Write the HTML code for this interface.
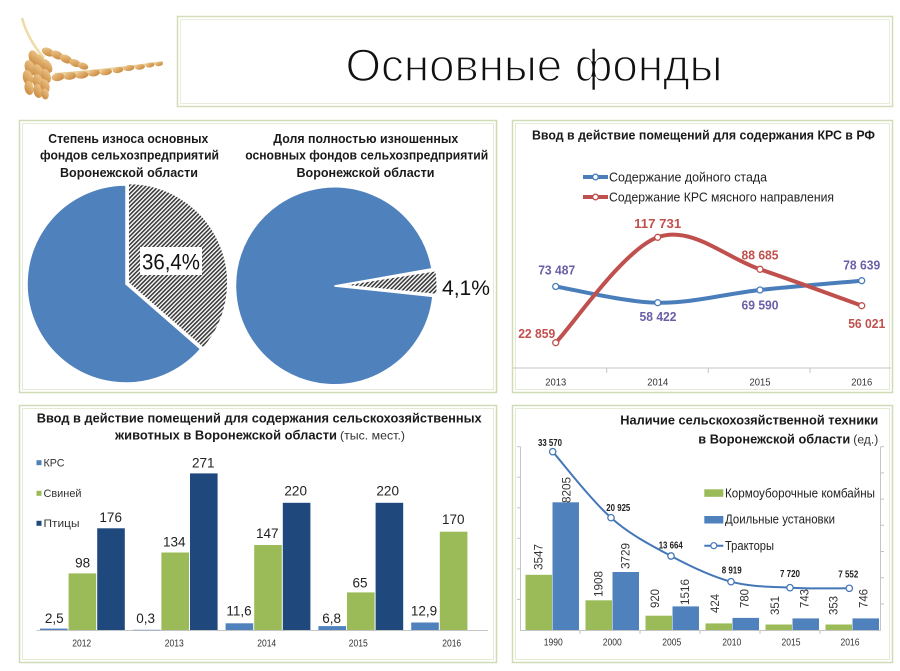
<!DOCTYPE html>
<html><head><meta charset="utf-8">
<style>
html,body{margin:0;padding:0;background:#fff;}
svg{display:block;}
text{font-family:"Liberation Sans","DejaVu Sans",sans-serif;}
</style></head>
<body>
<svg width="900" height="671" viewBox="0 0 900 671" xmlns="http://www.w3.org/2000/svg">
<defs>
<pattern id="hatch" patternUnits="userSpaceOnUse" width="3" height="3" patternTransform="rotate(45)">
<rect width="3" height="3" fill="#ffffff"/>
<line x1="0.8" y1="0" x2="0.8" y2="3" stroke="#3a3a3a" stroke-width="1.6"/>
</pattern>
<linearGradient id="gr1" x1="0" y1="0" x2="1" y2="1">
<stop offset="0" stop-color="#f2cf95"/><stop offset="1" stop-color="#c47f33"/>
</linearGradient>
</defs>
<rect width="900" height="671" fill="#fff"/>

<!-- wheat -->
<g>
<path d="M22,18 Q28,40 44,58" stroke="#eddcaa" stroke-width="2.5" fill="none"/>
<path d="M55,74 Q110,70 163,62" stroke="#e8cf98" stroke-width="2" fill="none"/>
<g fill="url(#gr1)">
<ellipse cx="34" cy="58" rx="8" ry="5" transform="rotate(70 34 58)"/>
<ellipse cx="30" cy="68" rx="8" ry="5" transform="rotate(70 30 68)"/>
<ellipse cx="28" cy="78" rx="8" ry="5" transform="rotate(75 28 78)"/>
<ellipse cx="29" cy="88" rx="7" ry="4.5" transform="rotate(80 29 88)"/>
<ellipse cx="40" cy="62" rx="8" ry="5" transform="rotate(65 40 62)"/>
<ellipse cx="38" cy="72" rx="8" ry="5" transform="rotate(70 38 72)"/>
<ellipse cx="38" cy="82" rx="8" ry="5" transform="rotate(75 38 82)"/>
<ellipse cx="38" cy="91" rx="7" ry="4.5" transform="rotate(80 38 91)"/>
<ellipse cx="47" cy="66" rx="7.5" ry="4.5" transform="rotate(60 47 66)"/>
<ellipse cx="46" cy="76" rx="7.5" ry="4.5" transform="rotate(70 46 76)"/>
<ellipse cx="45" cy="86" rx="7" ry="4.5" transform="rotate(75 45 86)"/>
<ellipse cx="45" cy="94" rx="5.5" ry="3.8" transform="rotate(80 45 94)"/>
<ellipse cx="48" cy="52" rx="6.5" ry="4" transform="rotate(25 48 52)"/>
<ellipse cx="57" cy="55" rx="6.5" ry="4" transform="rotate(25 57 55)"/>
<ellipse cx="66" cy="59" rx="6.5" ry="4" transform="rotate(25 66 59)"/>
<ellipse cx="75" cy="63" rx="6" ry="3.6" transform="rotate(22 75 63)"/>
<ellipse cx="83" cy="66" rx="5.5" ry="3.3" transform="rotate(20 83 66)"/>
<ellipse cx="58" cy="77" rx="6.5" ry="4" transform="rotate(-8 58 77)"/>
<ellipse cx="70" cy="76" rx="6.5" ry="3.8" transform="rotate(-8 70 76)"/>
<ellipse cx="82" cy="75" rx="6.5" ry="3.6" transform="rotate(-8 82 75)"/>
<ellipse cx="94" cy="73" rx="6" ry="3.4" transform="rotate(-8 94 73)"/>
<ellipse cx="106" cy="72" rx="6" ry="3.2" transform="rotate(-8 106 72)"/>
<ellipse cx="118" cy="70" rx="5.5" ry="3" transform="rotate(-8 118 70)"/>
<ellipse cx="129" cy="68" rx="5.5" ry="2.9" transform="rotate(-8 129 68)"/>
<ellipse cx="140" cy="67" rx="5" ry="2.7" transform="rotate(-8 140 67)"/>
<ellipse cx="150" cy="65" rx="4.5" ry="2.5" transform="rotate(-8 150 65)"/>
<ellipse cx="159" cy="64" rx="4" ry="2.2" transform="rotate(-8 159 64)"/>
</g>
</g>

<!-- title box -->
<rect x="177.5" y="16.5" width="715" height="90" fill="#fff" stroke="#d3deb9" stroke-width="1.5"/>
<rect x="180.5" y="19.5" width="709" height="84" fill="none" stroke="#e8eedb" stroke-width="1"/>
<text x="534" y="81" font-size="45" fill="#111" stroke="#fff" stroke-width="1.4" text-anchor="middle" textLength="377" lengthAdjust="spacingAndGlyphs">Основные фонды</text>

<!-- panels -->
<g fill="none">
<rect x="19.5" y="120.5" width="477" height="272" stroke="#d0dcb6" stroke-width="1.5"/>
<rect x="22.5" y="123.5" width="471" height="266" stroke="#e4ebd4" stroke-width="1"/>
<rect x="512.5" y="120.5" width="380" height="272" stroke="#d0dcb6" stroke-width="1.5"/>
<rect x="515.5" y="123.5" width="374" height="266" stroke="#e4ebd4" stroke-width="1"/>
<rect x="19.5" y="405.5" width="477" height="257" stroke="#d0dcb6" stroke-width="1.5"/>
<rect x="22.5" y="408.5" width="471" height="251" stroke="#e4ebd4" stroke-width="1"/>
<rect x="512.5" y="405.5" width="380" height="257" stroke="#d0dcb6" stroke-width="1.5"/>
<rect x="515.5" y="408.5" width="374" height="251" stroke="#e4ebd4" stroke-width="1"/>
</g>

<!-- TL pies -->
<g font-weight="bold" font-size="13" fill="#1a1a1a" text-anchor="middle">
<text x="128.3" y="142.8" textLength="160" lengthAdjust="spacingAndGlyphs">Степень износа основных</text>
<text x="129.5" y="159.5" textLength="179" lengthAdjust="spacingAndGlyphs">фондов сельхозпредприятий</text>
<text x="129" y="176.8" textLength="138" lengthAdjust="spacingAndGlyphs">Воронежской области</text>
<text x="365.8" y="142.8" textLength="185" lengthAdjust="spacingAndGlyphs">Доля полностью изношенных</text>
<text x="366.7" y="159.5" textLength="243" lengthAdjust="spacingAndGlyphs">основных фондов сельхозпредприятий</text>
<text x="365.5" y="176.8" textLength="138" lengthAdjust="spacingAndGlyphs">Воронежской области</text>
</g>
<path d="M126,284 L200.7,349 A99,99 0 1,1 126,185 Z" fill="#4f81bd" stroke="#fff" stroke-width="1.5"/>
<path d="M128.5,282.8 L128.5,183.8 A99,99 0 0,1 203.2,347.8 Z" fill="url(#hatch)" stroke="#fff" stroke-width="1"/>
<rect x="140" y="247" width="62" height="28" fill="#fff"/>
<text x="171" y="269.5" font-size="22" fill="#111" text-anchor="middle" textLength="58" lengthAdjust="spacingAndGlyphs">36,4%</text>

<path d="M334.5,286 L432.9,296.4 A99,99 0 1,1 432,268.8 Z" fill="#4f81bd" stroke="#fff" stroke-width="1.5"/>
<path d="M348,285 L435.4,271.5 A98,98 0 0,1 436.2,293.7 Z" fill="url(#hatch)"/>
<text x="466" y="295" font-size="21" fill="#111" text-anchor="middle" textLength="48" lengthAdjust="spacingAndGlyphs">4,1%</text>

<!-- TR line chart -->
<text x="703.5" y="139.5" font-size="12.5" font-weight="bold" fill="#1a1a1a" text-anchor="middle" textLength="343" lengthAdjust="spacingAndGlyphs">Ввод в действие помещений для содержания КРС в РФ</text>
<line x1="583" y1="177" x2="608" y2="177" stroke="#4a7ebb" stroke-width="4"/>
<circle cx="595.5" cy="177" r="2.8" fill="#fff" stroke="#4a7ebb" stroke-width="1.3"/>
<text x="609" y="181.5" font-size="13" fill="#222" textLength="158" lengthAdjust="spacingAndGlyphs">Содержание дойного стада</text>
<line x1="583" y1="197" x2="608" y2="197" stroke="#c0504d" stroke-width="4"/>
<circle cx="595.5" cy="197" r="2.8" fill="#fff" stroke="#c0504d" stroke-width="1.3"/>
<text x="609" y="201.5" font-size="13" fill="#222" textLength="225" lengthAdjust="spacingAndGlyphs">Содержание КРС мясного направления</text>

<line x1="513" y1="368" x2="891" y2="368" stroke="#c4c4c4" stroke-width="1"/>
<g stroke="#c4c4c4" stroke-width="1">
<line x1="606.7" y1="368" x2="606.7" y2="373"/>
<line x1="708.3" y1="368" x2="708.3" y2="373"/>
<line x1="810" y1="368" x2="810" y2="373"/>
</g>
<g font-size="10.5" fill="#333" text-anchor="middle">
<text x="555.7" y="385.5" textLength="21" lengthAdjust="spacingAndGlyphs">2013</text>
<text x="657.7" y="385.5" textLength="21" lengthAdjust="spacingAndGlyphs">2014</text>
<text x="760" y="385.5" textLength="21" lengthAdjust="spacingAndGlyphs">2015</text>
<text x="861.7" y="385.5" textLength="21" lengthAdjust="spacingAndGlyphs">2016</text>
</g>
<path d="M555.7,286.5 C572.7,289.2 623.65,302.1 657.7,302.7 C691.75,303.3 726,293.7 760,290 C794,286.3 844.75,282.25 861.7,280.7" fill="none" stroke="#4a7ebb" stroke-width="4" stroke-linecap="round"/>
<path d="M555.7,342.7 C572.7,325.1 623.65,249.5 657.7,237.3 C691.75,225.1 726,257.9 760,269.3 C794,280.7 844.75,299.6 861.7,305.7" fill="none" stroke="#c0504d" stroke-width="4" stroke-linecap="round"/>
<g fill="#fff" stroke-width="1.3">
<circle cx="555.7" cy="286.5" r="3" stroke="#4a7ebb"/>
<circle cx="657.7" cy="302.7" r="3" stroke="#4a7ebb"/>
<circle cx="760" cy="290" r="3" stroke="#4a7ebb"/>
<circle cx="861.7" cy="280.7" r="3" stroke="#4a7ebb"/>
<circle cx="555.7" cy="342.7" r="3" stroke="#c0504d"/>
<circle cx="657.7" cy="237.3" r="3" stroke="#c0504d"/>
<circle cx="760" cy="269.3" r="3" stroke="#c0504d"/>
<circle cx="861.7" cy="305.7" r="3" stroke="#c0504d"/>
</g>
<g font-size="12.5" font-weight="bold" text-anchor="middle">
<g fill="#6a5fa6">
<text x="556.7" y="274.5" textLength="37" lengthAdjust="spacingAndGlyphs">73 487</text>
<text x="658" y="321.2" textLength="37" lengthAdjust="spacingAndGlyphs">58 422</text>
<text x="760" y="309.5" textLength="37" lengthAdjust="spacingAndGlyphs">69 590</text>
<text x="861.7" y="269.5" textLength="37" lengthAdjust="spacingAndGlyphs">78 639</text>
</g>
<g fill="#c0504d">
<text x="536.7" y="337.8" textLength="37" lengthAdjust="spacingAndGlyphs">22 859</text>
<text x="657.7" y="227.8" textLength="47" lengthAdjust="spacingAndGlyphs">117 731</text>
<text x="760" y="259.5" textLength="37" lengthAdjust="spacingAndGlyphs">88 685</text>
<text x="866.7" y="327.8" textLength="37" lengthAdjust="spacingAndGlyphs">56 021</text>
</g>
</g>

<!-- BL bar chart -->
<text x="259.2" y="422.5" font-size="13" font-weight="bold" fill="#1a1a1a" text-anchor="middle" textLength="445" lengthAdjust="spacingAndGlyphs">Ввод в действие помещений для содержания сельскохозяйственных</text>
<text x="115" y="439.5" font-size="13" font-weight="bold" fill="#1a1a1a" textLength="222" lengthAdjust="spacingAndGlyphs">животных в Воронежской области</text>
<text x="340" y="439.5" font-size="12" fill="#333" textLength="65" lengthAdjust="spacingAndGlyphs">(тыс. мест.)</text>
<rect x="36.5" y="460.2" width="5" height="5" fill="#4f81bd"/>
<rect x="36.5" y="490.8" width="5" height="5" fill="#9bbb59"/>
<rect x="36.5" y="520.8" width="5" height="5" fill="#1f497d"/>
<g font-size="11" fill="#333">
<text x="43.5" y="466.5" textLength="21" lengthAdjust="spacingAndGlyphs">КРС</text>
<text x="43.5" y="497" textLength="38" lengthAdjust="spacingAndGlyphs">Свиней</text>
<text x="43.5" y="527" textLength="36" lengthAdjust="spacingAndGlyphs">Птицы</text>
</g>
<line x1="36.7" y1="630.5" x2="488" y2="630.5" stroke="#c4c4c4" stroke-width="1"/>
<g>
<rect x="40" y="628.6" width="27.6" height="1.4" fill="#4f81bd"/>
<rect x="68.6" y="573.4" width="27.6" height="56.6" fill="#9bbb59"/>
<rect x="97.2" y="528.3" width="27.6" height="101.7" fill="#1f497d"/>
<rect x="132.8" y="629.8" width="27.6" height="0.4" fill="#4f81bd"/>
<rect x="161.4" y="552.5" width="27.6" height="77.5" fill="#9bbb59"/>
<rect x="190" y="473.4" width="27.6" height="156.6" fill="#1f497d"/>
<rect x="225.6" y="623.3" width="27.6" height="6.7" fill="#4f81bd"/>
<rect x="254.2" y="545" width="27.6" height="85" fill="#9bbb59"/>
<rect x="282.8" y="502.8" width="27.6" height="127.2" fill="#1f497d"/>
<rect x="318.4" y="626.1" width="27.6" height="3.9" fill="#4f81bd"/>
<rect x="347" y="592.4" width="27.6" height="37.6" fill="#9bbb59"/>
<rect x="375.6" y="502.8" width="27.6" height="127.2" fill="#1f497d"/>
<rect x="411.2" y="622.5" width="27.6" height="7.5" fill="#4f81bd"/>
<rect x="439.8" y="531.7" width="27.6" height="98.3" fill="#9bbb59"/>
</g>
<g font-size="13.5" fill="#222" text-anchor="middle">
<text x="54.3" y="623">2,5</text>
<text x="82.7" y="567.4">98</text>
<text x="110.7" y="522">176</text>
<text x="145.7" y="623">0,3</text>
<text x="174.3" y="546.4">134</text>
<text x="203.3" y="467.4">271</text>
<text x="239" y="615.4">11,6</text>
<text x="267.3" y="538">147</text>
<text x="295.7" y="495.4">220</text>
<text x="331.7" y="623">6,8</text>
<text x="360" y="587.4">65</text>
<text x="387.7" y="495.4">220</text>
<text x="424" y="615.4">12,9</text>
<text x="453.3" y="524">170</text>
</g>
<g font-size="10" fill="#333" text-anchor="middle">
<text x="81.7" y="646.3" textLength="19" lengthAdjust="spacingAndGlyphs">2012</text>
<text x="174.3" y="646.3" textLength="19" lengthAdjust="spacingAndGlyphs">2013</text>
<text x="266.7" y="646.3" textLength="19" lengthAdjust="spacingAndGlyphs">2014</text>
<text x="358.3" y="646.3" textLength="19" lengthAdjust="spacingAndGlyphs">2015</text>
<text x="451.7" y="646.3" textLength="19" lengthAdjust="spacingAndGlyphs">2016</text>
</g>

<!-- BR chart -->
<text x="878.3" y="424.5" font-size="12.5" font-weight="bold" fill="#1a1a1a" text-anchor="end" textLength="258" lengthAdjust="spacingAndGlyphs">Наличие сельскохозяйственной техники</text>
<text x="698.3" y="443.5" font-size="12.5" font-weight="bold" fill="#1a1a1a" textLength="152" lengthAdjust="spacingAndGlyphs">в Воронежской области</text>
<text x="853.3" y="443.5" font-size="11.5" fill="#333" textLength="25" lengthAdjust="spacingAndGlyphs">(ед.)</text>

<g stroke="#c4c4c4" stroke-width="1">
<line x1="520.5" y1="446.7" x2="520.5" y2="630.5"/>
<line x1="880.5" y1="446.7" x2="880.5" y2="630.5"/>
<line x1="520" y1="630.5" x2="880.5" y2="630.5"/>
<line x1="517" y1="446.7" x2="520.5" y2="446.7"/>
<line x1="517" y1="477.2" x2="520.5" y2="477.2"/>
<line x1="517" y1="507.8" x2="520.5" y2="507.8"/>
<line x1="517" y1="538.3" x2="520.5" y2="538.3"/>
<line x1="517" y1="568.9" x2="520.5" y2="568.9"/>
<line x1="517" y1="599.4" x2="520.5" y2="599.4"/>
<line x1="880.5" y1="446.7" x2="884" y2="446.7"/>
<line x1="880.5" y1="472.9" x2="884" y2="472.9"/>
<line x1="880.5" y1="499.1" x2="884" y2="499.1"/>
<line x1="880.5" y1="525.3" x2="884" y2="525.3"/>
<line x1="880.5" y1="551.5" x2="884" y2="551.5"/>
<line x1="880.5" y1="577.7" x2="884" y2="577.7"/>
<line x1="880.5" y1="603.9" x2="884" y2="603.9"/>
<line x1="580" y1="630.5" x2="580" y2="634"/>
<line x1="640" y1="630.5" x2="640" y2="634"/>
<line x1="700" y1="630.5" x2="700" y2="634"/>
<line x1="760" y1="630.5" x2="760" y2="634"/>
<line x1="820" y1="630.5" x2="820" y2="634"/>
</g>
<g>
<rect x="525.5" y="574.8" width="26.5" height="55.2" fill="#9bbb59"/>
<rect x="552.5" y="502.3" width="26.5" height="127.7" fill="#4f81bd"/>
<rect x="585.5" y="600.3" width="26.5" height="29.7" fill="#9bbb59"/>
<rect x="612.5" y="572" width="26.5" height="58" fill="#4f81bd"/>
<rect x="645.5" y="615.7" width="26.5" height="14.3" fill="#9bbb59"/>
<rect x="672.5" y="606.4" width="26.5" height="23.6" fill="#4f81bd"/>
<rect x="705.5" y="623.4" width="26.5" height="6.6" fill="#9bbb59"/>
<rect x="732.5" y="617.9" width="26.5" height="12.1" fill="#4f81bd"/>
<rect x="765.5" y="624.5" width="26.5" height="5.5" fill="#9bbb59"/>
<rect x="792.5" y="618.4" width="26.5" height="11.6" fill="#4f81bd"/>
<rect x="825.5" y="624.5" width="26.5" height="5.5" fill="#9bbb59"/>
<rect x="852.5" y="618.4" width="26.5" height="11.6" fill="#4f81bd"/>
</g>
<g font-size="12" fill="#333">
<text transform="translate(542.5,570) rotate(-90)" textLength="26" lengthAdjust="spacingAndGlyphs">3547</text>
<text transform="translate(570.5,503) rotate(-90)" textLength="26" lengthAdjust="spacingAndGlyphs">8205</text>
<text transform="translate(602.5,597) rotate(-90)" textLength="26" lengthAdjust="spacingAndGlyphs">1908</text>
<text transform="translate(629.5,569) rotate(-90)" textLength="26" lengthAdjust="spacingAndGlyphs">3729</text>
<text transform="translate(659,608) rotate(-90)" textLength="19" lengthAdjust="spacingAndGlyphs">920</text>
<text transform="translate(689,605) rotate(-90)" textLength="26" lengthAdjust="spacingAndGlyphs">1516</text>
<text transform="translate(719,613) rotate(-90)" textLength="19" lengthAdjust="spacingAndGlyphs">424</text>
<text transform="translate(748.3,608) rotate(-90)" textLength="19" lengthAdjust="spacingAndGlyphs">780</text>
<text transform="translate(779,615) rotate(-90)" textLength="19" lengthAdjust="spacingAndGlyphs">351</text>
<text transform="translate(808.3,608) rotate(-90)" textLength="19" lengthAdjust="spacingAndGlyphs">743</text>
<text transform="translate(837.3,615) rotate(-90)" textLength="19" lengthAdjust="spacingAndGlyphs">353</text>
<text transform="translate(867.3,608) rotate(-90)" textLength="19" lengthAdjust="spacingAndGlyphs">746</text>
</g>
<path d="M552.7,451.7 C562.4,462.7 591.3,500.3 611,517.7 C630.7,535.1 651,545.3 671,556 C691,566.7 711.2,576.4 731,581.7 C750.8,587 770.3,586.6 790,587.7 C809.7,588.8 839.4,588.2 849.3,588.3" fill="none" stroke="#4477b8" stroke-width="2"/>
<g fill="#fff" stroke="#4477b8" stroke-width="1.3">
<circle cx="552.7" cy="451.7" r="3.2"/>
<circle cx="611" cy="517.7" r="3.2"/>
<circle cx="671" cy="556" r="3.2"/>
<circle cx="731" cy="581.7" r="3.2"/>
<circle cx="790" cy="587.7" r="3.2"/>
<circle cx="849.3" cy="588.3" r="3.2"/>
</g>
<g font-size="10.5" font-weight="bold" fill="#222" text-anchor="middle">
<text x="550" y="446" textLength="24" lengthAdjust="spacingAndGlyphs">33 570</text>
<text x="618.3" y="511" textLength="24" lengthAdjust="spacingAndGlyphs">20 925</text>
<text x="670.7" y="548.7" textLength="24" lengthAdjust="spacingAndGlyphs">13 664</text>
<text x="731.7" y="573.7" textLength="20" lengthAdjust="spacingAndGlyphs">8 919</text>
<text x="790" y="577" textLength="20" lengthAdjust="spacingAndGlyphs">7 720</text>
<text x="848.3" y="577.7" textLength="20" lengthAdjust="spacingAndGlyphs">7 552</text>
</g>
<rect x="704.3" y="489.3" width="19" height="7.5" fill="#9bbb59"/>
<rect x="704.3" y="516" width="19" height="7.5" fill="#4f81bd"/>
<line x1="704.3" y1="545.7" x2="723.3" y2="545.7" stroke="#4477b8" stroke-width="2"/>
<circle cx="713.8" cy="545.7" r="3" fill="#fff" stroke="#4477b8" stroke-width="1.2"/>
<g font-size="12.5" fill="#222">
<text x="725" y="497.6" textLength="150" lengthAdjust="spacingAndGlyphs">Кормоуборочные комбайны</text>
<text x="725" y="523.6" textLength="110" lengthAdjust="spacingAndGlyphs">Доильные установки</text>
<text x="725" y="550" textLength="49" lengthAdjust="spacingAndGlyphs">Тракторы</text>
</g>
<g font-size="10.5" fill="#333" text-anchor="middle">
<text x="553.3" y="645.5" textLength="19" lengthAdjust="spacingAndGlyphs">1990</text>
<text x="612.3" y="645.5" textLength="19" lengthAdjust="spacingAndGlyphs">2000</text>
<text x="671.7" y="645.5" textLength="19" lengthAdjust="spacingAndGlyphs">2005</text>
<text x="731.7" y="645.5" textLength="19" lengthAdjust="spacingAndGlyphs">2010</text>
<text x="791" y="645.5" textLength="19" lengthAdjust="spacingAndGlyphs">2015</text>
<text x="850" y="645.5" textLength="19" lengthAdjust="spacingAndGlyphs">2016</text>
</g>
</svg>
</body></html>
